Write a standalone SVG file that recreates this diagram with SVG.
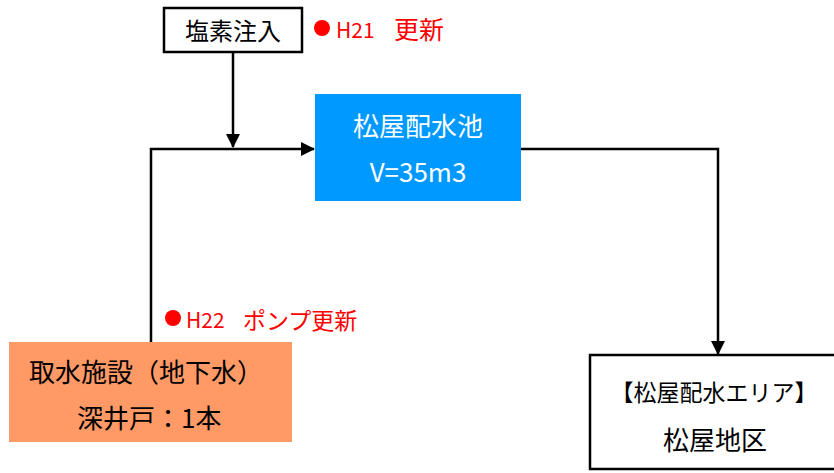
<svg xmlns="http://www.w3.org/2000/svg" width="834" height="473" viewBox="0 0 834 473">
<style>
text{font-family:"Noto Sans CJK JP","Noto Sans",sans-serif;font-size:25px;fill:#000}
.w{fill:#fff}
.r{fill:#ff0000}
.c{text-anchor:middle}
.ln{fill:none;stroke:#000;stroke-width:2.5}
</style>
<defs>
<marker id="ah" markerWidth="14" markerHeight="14" refX="13" refY="7" orient="auto" markerUnits="userSpaceOnUse" viewBox="0 0 14 14">
<path d="M0,0 L14,7 L0,14 Z" fill="#000"/>
</marker>
</defs>
<g id="connectors">
<path class="ln" d="M233,52 V147" marker-end="url(#ah)"/>
<path class="ln" d="M151,342 V149 H314" marker-end="url(#ah)"/>
<path class="ln" d="M521,149 H718 V354" marker-end="url(#ah)"/>
</g>
<g id="chlorine">
<rect x="164" y="8" width="138" height="44" fill="#fff" stroke="#000" stroke-width="2.5"/>
<text class="c" x="233" y="40" style="font-size:24px">塩素注入</text>
</g>
<g id="note-h21">
<circle cx="322" cy="28" r="8" fill="#ff0000"/>
<text class="r" x="336" y="38" style="font-size:21px">H21</text>
<text class="r" x="394" y="39">更新</text>
</g>
<g id="reservoir">
<rect x="315" y="94" width="206" height="107" fill="#0099ff"/>
<text class="w c" x="418" y="136" style="font-size:26px">松屋配水池</text>
<text class="w c" x="418" y="182" style="font-size:26px">V=35m3</text>
</g>
<g id="note-h22">
<circle cx="173" cy="318" r="8" fill="#ff0000"/>
<text class="r" x="186" y="328" style="font-size:21px">H22</text>
<text class="r" x="243" y="329" style="font-size:23px">ポンプ更新</text>
</g>
<g id="intake">
<rect x="9" y="342" width="283" height="100" fill="#ff9966"/>
<text x="29" y="382" style="font-size:26px">取水施設（地下水）</text>
<text x="77" y="428" style="font-size:26px">深井戸：1本</text>
</g>
<g id="area">
<rect x="590" y="355" width="250" height="114" fill="#fff" stroke="#000" stroke-width="2.5"/>
<text class="c" x="714" y="401" style="font-size:23px">【松屋配水エリア】</text>
<text class="c" x="715" y="450" style="font-size:26px">松屋地区</text>
</g>
</svg>
